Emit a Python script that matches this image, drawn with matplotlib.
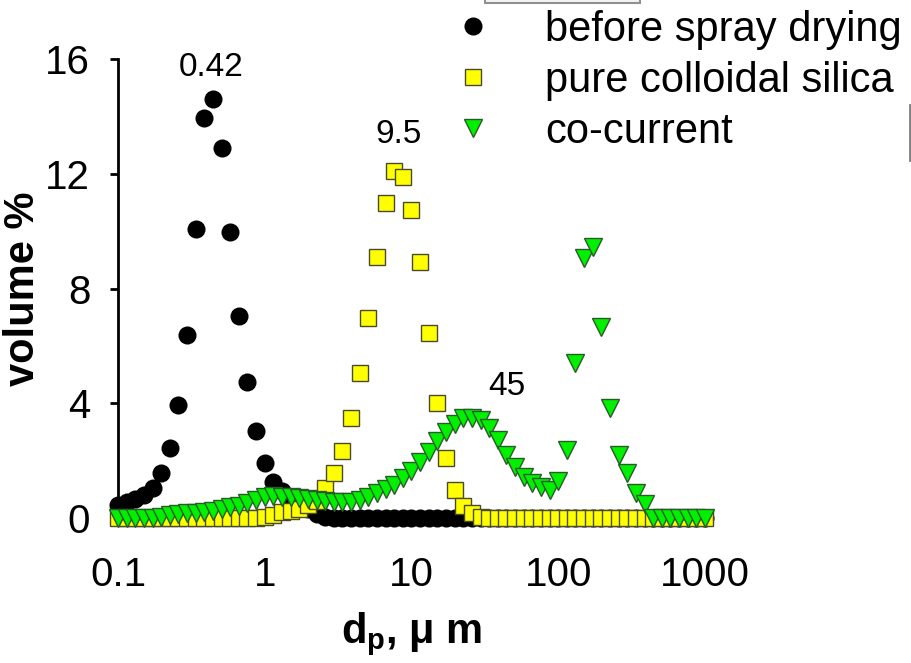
import numpy as np
import matplotlib
matplotlib.use('Agg')
import matplotlib.pyplot as plt
from matplotlib.patches import Rectangle
from matplotlib.lines import Line2D

plt.rcParams['font.family'] = ['Liberation Sans', 'DejaVu Sans']
plt.rcParams['mathtext.fontset'] = 'custom'
plt.rcParams['mathtext.rm'] = 'Liberation Sans'
plt.rcParams['mathtext.bf'] = 'Liberation Sans:bold'
plt.rcParams['mathtext.default'] = 'bf'

# particle size bins, um
size_um = [0.1000, 0.1145, 0.1311, 0.1501, 0.1719, 0.1968, 0.2254, 0.2581, 0.2955,
           0.3384, 0.3875, 0.4437, 0.5080, 0.5817, 0.6661, 0.7627, 0.8733,
           1.000, 1.145, 1.311, 1.501, 1.719, 1.968, 2.254, 2.581, 2.955,
           3.384, 3.875, 4.437, 5.080, 5.817, 6.661, 7.627, 8.733,
           10.00, 11.45, 13.11, 15.01, 17.19, 19.68, 22.54, 25.81, 29.55,
           33.84, 38.75, 44.37, 50.80, 58.17, 66.61, 76.27, 87.33,
           100.0, 114.5, 131.1, 150.1, 171.9, 196.8, 225.4, 258.1, 295.5,
           338.4, 387.5, 443.7, 508.0, 581.7, 666.1, 762.7, 873.3,
           1000.0]

# volume % per bin
before_spray = [0.45, 0.55, 0.65, 0.80, 1.05, 1.57, 2.44, 3.94, 6.39, 10.09,
                13.96, 14.62, 12.91, 9.98, 7.05, 4.75, 3.04, 1.92, 1.26, 0.95,
                0.70, 0.50, 0.30, 0.15, 0.05] + [0.0] * 44

pure_silica = [0.0] * 17 + [0.05, 0.10, 0.21, 0.25, 0.32, 0.45, 0.60, 1.05, 1.57,
                            2.34, 3.49, 5.06, 6.98, 9.11, 10.99, 12.08, 11.90, 10.75,
                            8.94, 6.46, 4.01, 2.09, 0.98, 0.43, 0.18, 0.03] + [0.0] * 26

co_current = [0.0] * 5 + [0.02, 0.10, 0.14, 0.16, 0.18, 0.22, 0.25, 0.30, 0.37, 0.43,
                          0.53, 0.63, 0.74, 0.77, 0.74, 0.72, 0.69, 0.65, 0.63, 0.61,
                          0.56, 0.56, 0.56, 0.63, 0.73, 0.87, 1.01, 1.15, 1.40, 1.64,
                          1.95, 2.30, 2.69, 3.00, 3.28, 3.49, 3.49, 3.42, 3.14, 2.72,
                          2.20, 1.78, 1.43, 1.22, 1.08, 0.98, 1.29, 2.37, 5.41, 9.07,
                          9.46, 6.67, 3.84, 2.20, 1.57, 0.87, 0.49] + [0.0] * 7

peak_labels = ['0.42', '9.5', '45']
peak_x = [0.43, 8.2, 45.0]
peak_y = [15.7, 13.37, 4.57]

fig = plt.figure(figsize=(9.12, 6.63), dpi=100)
ax = fig.add_axes([0.1294, 0.2187, 0.6436, 0.6923])

ax.plot(size_um, before_spray, 'o', color='black', ms=13, mew=0,
        clip_on=False, label='before spray drying', zorder=3)
ax.plot(size_um, pure_silica, 's', color='#ffff00', mec='#4a4a30', mew=1.0, ms=11,
        clip_on=False, label='pure colloidal silica', zorder=4)
ax.plot(size_um, co_current, 'v', color='#00f000', mec='#2a5a2a', mew=1.0, ms=12.5,
        clip_on=False, label='co-current', zorder=5)

for t, x, y in zip(peak_labels, peak_x, peak_y):
    ax.text(x, y, t, fontsize=24, ha='center', va='center')

ax.set_xscale('log')
ax.set_xlim(0.1, 1000)
ax.set_ylim(0, 16)
ax.set_xticks([0.1, 1, 10, 100, 1000])
ax.set_xticklabels(['0.1', '1', '10', '100', '1000'])
ax.xaxis.set_minor_locator(matplotlib.ticker.NullLocator())
ax.set_yticks([0, 4, 8, 12, 16])
ax.tick_params(axis='x', length=0, pad=27, labelsize=29)
ax.tick_params(axis='y', length=6, width=2, pad=14, labelsize=29, direction='out')

for s in ['top', 'right', 'bottom']:
    ax.spines[s].set_visible(False)
ax.spines['left'].set_linewidth(2)

ax.set_ylabel('volume %', fontsize=30, fontweight='bold')
ax.yaxis.set_label_coords(-0.128, 0.5)
ax.set_xlabel('d$_p$, μ m', fontsize=30, fontweight='bold', labelpad=12)

fig.legend(loc='upper left', bbox_to_anchor=(452 / 912, 1 - 10 / 663),
           frameon=False, fontsize=30, handlelength=1.0, handletextpad=1.23,
           labelspacing=0.26, borderpad=0, borderaxespad=0, markerscale=1.0)

# fragments of the surrounding frame at the top right
fig.patches.append(Rectangle((485 / 912, 1 - 3 / 663), 155 / 912, 20 / 663,
                             transform=fig.transFigure, fill=True, fc='#f4f4f4',
                             ec='#909090', lw=1.5))
fig.lines.append(Line2D([910 / 912, 910 / 912], [1 - 105 / 663, 1 - 160 / 663],
                        transform=fig.transFigure, color='#808080', lw=2))

fig.savefig('out.png', dpi=100)
